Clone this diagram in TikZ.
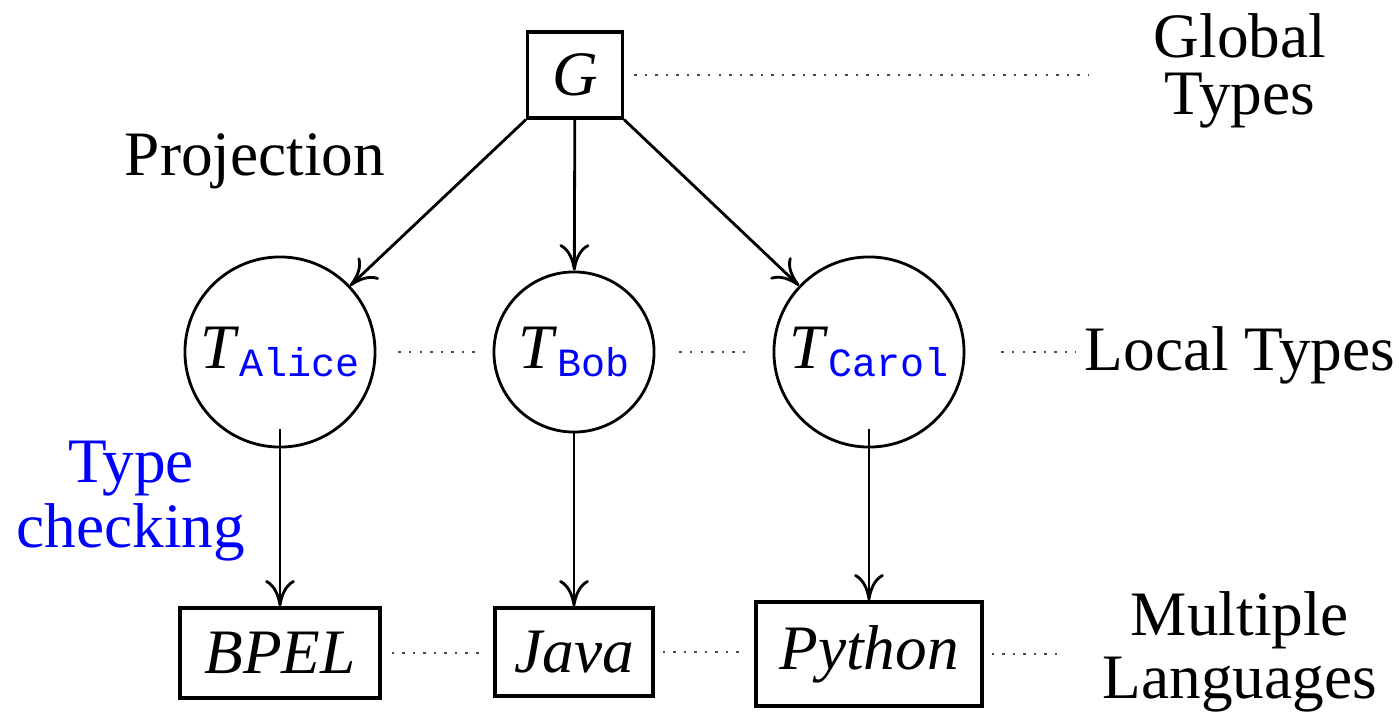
\documentclass[tikz,border=0pt]{standalone}
\usepackage{fontspec}
\setmainfont{Liberation Serif}
\setmonofont{Liberation Mono}
\usetikzlibrary{arrows.meta}
\newcommand\tsub[1]{\fontsize{18}{20}\selectfont\textit{T}\raisebox{-2.5pt}{\fontsize{11.4}{12}\selectfont\ttfamily\color{blue}#1}}
\begin{document}
\begin{tikzpicture}[x=0.01cm,y=-0.01cm,
  lbl/.style={font=\fontsize{18}{16.4}\selectfont, align=center, inner sep=0pt},
  box/.style={draw, line width=0.9pt, inner sep=0pt, font=\fontsize{18}{20}\selectfont\itshape},
  circ/.style={draw, circle, line width=0.8pt, inner sep=0pt},
  arr/.style={-{Computer Modern Rightarrow[length=7.5pt,width=8.5pt]}, line width=0.8pt},
  dots/.style={line width=0.7pt, dash pattern=on 0.7pt off 2.3pt, black!70}
]
\useasboundingbox (0,0) rectangle (1399,712);

% nodes
\node[box, minimum width=0.95cm, minimum height=0.86cm] (G) at (575,75) {G};
\node[circ, minimum size=1.9cm] (A) at (280,352) {\tsub{Alice}};
\node[circ, minimum size=1.6cm] (B) at (574,352) {\tsub{Bob}};
\node[circ, minimum size=1.9cm] (C) at (869,352) {\tsub{Carol}};
\node[box, minimum width=2.0cm, minimum height=0.9cm] (BP) at (280,653) {BPEL};
\node[box, minimum width=1.58cm, minimum height=0.88cm] (J) at (574,652) {Java};
\node[box, minimum width=2.26cm, minimum height=1.04cm] (P) at (869,654) {Python};

% labels
\node[lbl] (GT) at (1240,71) {Global\\Types};
\node[lbl, anchor=base] (LT) at (1240,370) {Local Types};
\node[lbl, font=\fontsize{18}{17.9}\selectfont] (ML) at (1240,652) {Multiple\\Languages};
\node[lbl, anchor=base] (PR) at (255,175) {Projection};
\node[lbl, text=blue, font=\fontsize{18}{18.5}\selectfont] (TC) at (131,501) {Type\\checking};

% arrows
\draw[arr] (G.south west) -- (A);
\draw[arr] (G) -- (B);
\draw[arr] (G.south east) -- (C);
\draw[arr] ([yshift=0.19cm]A.south) -- (BP.north);
\draw[arr] (B.south) -- (J.north);
\draw[arr] ([yshift=0.19cm]C.south) -- (P.north);

% dotted lines
\draw[dots, shorten <=0.1cm, shorten >=0.64cm] (G.east) -- (G.east -| GT.west);
\draw[dots, shorten <=0.22cm, shorten >=0.18cm] (A.east) -- (B.west);
\draw[dots, shorten <=0.24cm, shorten >=0.26cm] (B.east) -- (C.west);
\draw[dots, shorten <=0.36cm, shorten >=0.08cm] (C.east) -- (C.east -| LT.west);
\draw[dots, shorten <=0.1cm, shorten >=0.1cm] (BP.east) -- (BP.east -| J.west);
\draw[dots, shorten <=0.08cm, shorten >=0.1cm] (J.east) -- (J.east -| P.west);
\draw[dots, shorten <=0.08cm, shorten >=0.38cm] (P.east) -- (P.east -| ML.west);
\end{tikzpicture}
\end{document}
